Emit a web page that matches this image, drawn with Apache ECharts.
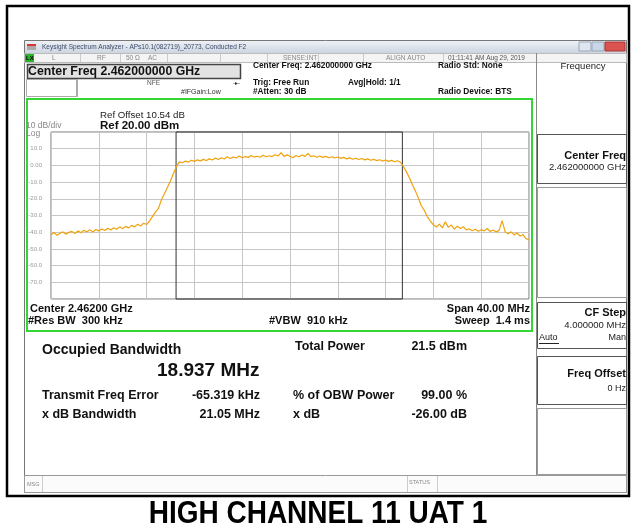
<!DOCTYPE html>
<html><head><meta charset="utf-8">
<script src="https://cdn.jsdelivr.net/npm/echarts@6/dist/echarts.min.js"></script>
<style>html,body{margin:0;padding:0;background:#fff}#c{width:635px;height:529px}</style>
</head><body><div id="c"></div>
<script>
// Span: offsets from centre (MHz), trace sampled every 0.25 MHz
const spanStartMHz = -20;
const spanStepMHz = 0.25;
const yTicks = [20, 10, 0, -10, -20, -30, -40, -50, -60, -70, -80];
const traceDbm = [
  -41.5,-40.2,-41.8,-40.6,-39.8,-41.2,-40.1,-39.5,
  -40.8,-39.2,-40.3,-38.9,-39.7,-38.6,-39.9,-38.4,
  -39.2,-38.1,-39.0,-37.6,-38.7,-37.3,-38.2,-36.8,
  -37.9,-36.5,-37.4,-35.9,-36.8,-35.2,-36.3,-34.6,
  -35.4,-33.2,-30.5,-27.8,-25.6,-20.4,-16.8,-13.1,
  -9.2,-4.8,-0.6,2.1,1.6,2.6,2.0,3.1,
  2.4,3.3,2.7,3.6,2.9,3.9,3.2,4.4,
  3.5,4.6,3.8,5.2,4.1,5.0,4.4,5.6,
  4.6,5.3,4.8,5.9,5.0,5.5,4.9,6.1,
  5.2,5.8,5.3,6.4,5.6,7.6,5.4,6.3,
  5.5,4.6,5.9,5.2,6.2,5.4,7.1,5.3,
  5.8,4.9,5.6,4.8,5.4,4.6,5.2,4.4,
  5.0,4.2,4.8,3.9,4.5,3.7,4.3,3.5,
  4.1,3.3,3.9,3.1,3.6,2.9,3.4,2.6,
  3.2,2.4,3.0,2.2,2.8,1.9,-0.8,-3.9,
  -7.6,-11.8,-15.4,-19.7,-24.3,-27.1,-30.8,-33.4,
  -35.6,-36.9,-35.2,-37.4,-33.8,-37.1,-35.6,-38.2,
  -36.4,-37.8,-36.7,-38.6,-37.9,-39.1,-38.2,-39.4,
  -38.5,-39.2,-37.8,-39.6,-38.7,-39.8,-38.9,-33.1,
  -39.7,-40.9,-39.8,-41.6,-40.5,-42.3,-41.4,-43.8,
  -44.6
];
const obwMHz = 18.937;
const freqErrorMHz = -0.065319;

const F = '"Liberation Sans", Arial, sans-serif';
function T(text, x, y, size, opts) {
  opts = opts || {};
  const el = { type: 'text', x: x, y: y, silent: true, z: 100,
    style: { text: text, font: (opts.bold ? 'bold ' : '') + size + 'px ' + (opts.family || F),
      fill: opts.color || '#111', align: opts.align || 'left', verticalAlign: 'middle' } };
  if (opts.scaleY) el.scaleY = opts.scaleY;
  return el;
}
function R(x, y, w, h, stroke, fill, lw) {
  return { type: 'rect', shape: { x: x, y: y, width: w, height: h }, silent: true, z: 90,
    style: { stroke: stroke || null, fill: fill || 'none', lineWidth: lw || 1 } };
}
function L(x1, y1, x2, y2, c, lw) {
  return { type: 'line', shape: { x1: x1, y1: y1, x2: x2, y2: y2 }, silent: true, z: 95,
    style: { stroke: c || '#999', lineWidth: lw || 1 } };
}

const g = [];
// outer frame and window
g.push(R(7, 6, 622, 490, '#000', 'none', 2.5));
g.push(R(24.5, 40.5, 602, 452, '#777'));
g.push({ type: 'rect', shape: { x: 25, y: 41, width: 601, height: 12 }, silent: true, z: 90,
  style: { fill: new echarts.graphic.LinearGradient(0, 0, 0, 1, [{ offset: 0, color: '#eef1f6' }, { offset: 1, color: '#cdd5e0' }]) } });
g.push(R(27, 44, 9, 2, null, '#d33'));
g.push(R(27, 46, 9, 4, null, '#aaa'));
g.push(T('Keysight Spectrum Analyzer - APs10.1(082719)_20773, Conducted F2', 42, 47, 6.5, { color: '#3b4a6b' }));
g.push(R(579, 42, 12, 9, '#9aa7b8', '#dfe6ef'));
g.push(R(592, 42, 12, 9, '#9aa7b8', '#c8d6ea'));
g.push(R(605, 42, 20, 9, '#a33', '#d9534f'));
// status row
g.push(R(24.5, 53.5, 602, 9, '#bbb', '#f4f4f4'));
g.push(R(25, 54, 9, 8, null, '#2bb52b'));
g.push(T('LX', 26, 58, 6, { color: '#000', bold: true }));
[80, 120, 167, 220, 267, 318, 363, 443].forEach(function (x) { g.push(L(x + 0.5, 54, x + 0.5, 62, '#ccc')); });
g.push(T('L', 52, 58, 6.5, { color: '#888' }));
g.push(T('RF', 97, 58, 6.5, { color: '#888' }));
g.push(T('50 Ω', 126, 58, 6.5, { color: '#888' }));
g.push(T('AC', 148, 58, 6.5, { color: '#888' }));
g.push(T('SENSE:INT', 283, 58, 6.5, { color: '#888' }));
g.push(T('ALIGN AUTO', 386, 58, 6.5, { color: '#888' }));
g.push(T('01:11:41 AM Aug 29, 2019', 448, 58, 6.5, { color: '#555' }));
// header
g.push(R(27.5, 64.5, 213, 14, '#444', '#e2e2e2', 1.5));
g.push(T('Center Freq 2.462000000 GHz', 28, 72, 12.3, { bold: true }));
g.push(R(26.5, 79.5, 50, 17, '#aaa'));
g.push(L(77.5, 79, 77.5, 97, '#aaa'));
g.push(T('NFE', 147, 83, 6.5, { color: '#555' }));
g.push(T('-▸-', 233, 83, 6, { color: '#333' }));
g.push(T('#IFGain:Low', 181, 92, 7, { color: '#333' }));
g.push(T('Center Freq: 2.462000000 GHz', 253, 66, 8.3, { bold: true }));
g.push(T('Trig: Free Run', 253, 83, 8.3, { bold: true }));
g.push(T('Avg|Hold: 1/1', 348, 83, 8.3, { bold: true }));
g.push(T('#Atten: 30 dB', 253, 92, 8.3, { bold: true }));
g.push(T('Radio Std: None', 438, 66, 8.3, { bold: true }));
g.push(T('Radio Device: BTS', 438, 92, 8.3, { bold: true }));
// green plot window
g.push(R(27, 99, 505, 232, '#33d633', 'none', 2));
g.push(T('Ref Offset 10.54 dB', 100, 115, 9.7, { color: '#222' }));
g.push(T('Ref 20.00 dBm', 100, 126, 11.5, { bold: true }));
g.push(T('10 dB/div', 26, 126, 8.5, { color: '#888' }));
g.push(T('Log', 26, 134, 8.5, { color: '#888' }));
g.push(T('Center 2.46200 GHz', 30, 309, 11, { bold: true }));
g.push(T('Span 40.00 MHz', 530, 309, 11, { bold: true, align: 'right' }));
g.push(T('#Res BW  300 kHz', 28, 321, 11, { bold: true }));
g.push(T('#VBW  910 kHz', 269, 321, 11, { bold: true }));
g.push(T('Sweep  1.4 ms', 530, 321, 11, { bold: true, align: 'right' }));
// results
g.push(T('Occupied Bandwidth', 42, 350, 14, { bold: true }));
g.push(T('18.937 MHz', 157, 371, 19, { bold: true }));
g.push(T('Total Power', 295, 347, 12.5, { bold: true }));
g.push(T('21.5 dBm', 467, 347, 12.5, { bold: true, align: 'right' }));
g.push(T('Transmit Freq Error', 42, 396, 12.5, { bold: true }));
g.push(T('-65.319 kHz', 260, 396, 12.5, { bold: true, align: 'right' }));
g.push(T('% of OBW Power', 293, 396, 12.5, { bold: true }));
g.push(T('99.00 %', 467, 396, 12.5, { bold: true, align: 'right' }));
g.push(T('x dB Bandwidth', 42, 415, 12.5, { bold: true }));
g.push(T('21.05 MHz', 260, 415, 12.5, { bold: true, align: 'right' }));
g.push(T('x dB', 293, 415, 12.5, { bold: true }));
g.push(T('-26.00 dB', 467, 415, 12.5, { bold: true, align: 'right' }));
// right panel
g.push(L(536.5, 53, 536.5, 475, '#888'));
g.push(T('Frequency', 583, 66, 9.5, { color: '#222', align: 'center' }));
g.push(R(537.5, 134.5, 89, 49, '#555'));
g.push(T('Center Freq', 626, 156, 11, { bold: true, align: 'right' }));
g.push(T('2.462000000 GHz', 626, 167, 9.5, { color: '#222', align: 'right' }));
g.push(R(537.5, 187.5, 89, 110, '#999'));
g.push(R(537.5, 302.5, 89, 46, '#555'));
g.push(T('CF Step', 626, 313, 11, { bold: true, align: 'right' }));
g.push(T('4.000000 MHz', 626, 325, 9.5, { color: '#222', align: 'right' }));
g.push(T('Auto', 539, 338, 9, { color: '#222' }));
g.push(L(539, 343.5, 559, 343.5, '#222'));
g.push(T('Man', 626, 338, 9, { color: '#222', align: 'right' }));
g.push(R(537.5, 356.5, 89, 48, '#555'));
g.push(T('Freq Offset', 626, 374, 11, { bold: true, align: 'right' }));
g.push(T('0 Hz', 626, 389, 9, { color: '#222', align: 'right' }));
g.push(R(537.5, 408.5, 89, 66, '#999'));
// status bar
g.push(R(24.5, 475.5, 602, 17, '#999', '#fbfbfb'));
g.push(L(42.5, 476, 42.5, 492, '#ccc'));
g.push(L(407.5, 476, 407.5, 492, '#ccc'));
g.push(L(437.5, 476, 437.5, 492, '#ccc'));
g.push(T('MSG', 27, 484, 5.5, { color: '#888' }));
g.push(T('STATUS', 409, 482, 5.5, { color: '#888' }));
// caption
g.push(T('HIGH CHANNEL 11 UAT 1', 318, 514, 28, { bold: true, align: 'center', color: '#000', scaleY: 1.15 }));

const data = traceDbm.map(function (v, i) { return [spanStartMHz + i * spanStepMHz, v]; });
const c0 = freqErrorMHz;

const chart = echarts.init(document.getElementById('c'), null, { renderer: 'canvas' });
chart.setOption({
  animation: false,
  backgroundColor: '#fff',
  grid: { left: 51, top: 132, width: 478, height: 167, show: true, borderColor: '#777', borderWidth: 1, backgroundColor: '#fff' },
  xAxis: { type: 'value', min: -20, max: 20, interval: 4,
    axisLine: { show: false }, axisTick: { show: false }, axisLabel: { show: false },
    splitLine: { show: true, lineStyle: { color: '#c6c6c6', width: 1 } } },
  yAxis: { type: 'value', min: yTicks[yTicks.length - 1], max: yTicks[0], interval: 10,
    axisLine: { show: false }, axisTick: { show: false },
    axisLabel: { show: true, margin: 9, fontSize: 6, color: '#9a9a9a', fontFamily: 'Liberation Sans, Arial',
      formatter: function (v) { if (v === yTicks[0] || v === yTicks[yTicks.length - 1]) return ''; return v === 0 ? '0.00' : v.toFixed(1); } },
    splitLine: { show: true, lineStyle: { color: '#c6c6c6', width: 1 } } },
  series: [{
    type: 'line', data: data, showSymbol: false, silent: true,
    lineStyle: { color: '#f0a20c', width: 1.2 },
    markArea: { silent: true, itemStyle: { color: 'rgba(0,0,0,0)', borderColor: '#333', borderWidth: 1 },
      data: [[{ xAxis: c0 - obwMHz / 2, yAxis: yTicks[0] }, { xAxis: c0 + obwMHz / 2, yAxis: yTicks[yTicks.length - 1] }]] }
  }],
  graphic: g
});
</script></body></html>
